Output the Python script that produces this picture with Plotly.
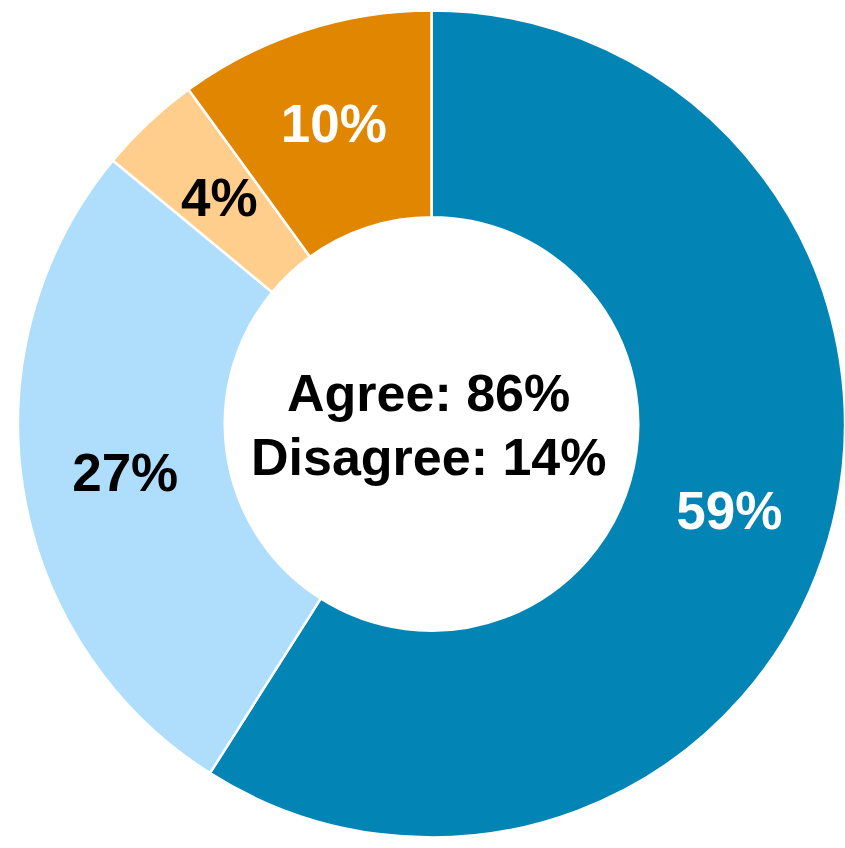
import math
import plotly.graph_objects as go

labels = ["Strongly agree", "Somewhat agree", "Somewhat disagree", "Strongly disagree"]
values = [59, 27, 4, 10]
text_labels = ["59%", "27%", "4%", "10%"]
colors = ["#0285B5", "#AEDEFC", "#FFCE8C", "#E08600"]
text_colors = ["white", "black", "black", "white"]
center_lines = ["Agree: 86%", "Disagree: 14%"]

W, H = 845, 848
FONT = "Liberation Sans, Arial, sans-serif"
HOLE = 0.5
xd = [18 / W, 1.0]
yd = [(H - 837.5) / H, (H - 10.5) / H]

# slices whose label Plotly would push outward are labelled by annotation instead
small = [v < 5 for v in values]
pie_text = ["" if s else t for s, t in zip(small, text_labels)]

fig = go.Figure(go.Pie(
    labels=labels,
    values=values,
    text=pie_text,
    textinfo="text",
    textposition="inside",
    insidetextorientation="horizontal",
    sort=False,
    direction="clockwise",
    rotation=0,
    hole=HOLE,
    marker=dict(colors=colors, line=dict(color="white", width=2.5)),
    textfont=dict(family=FONT, size=53, color=text_colors, weight="bold"),
    domain=dict(x=xd, y=yd),
    showlegend=False,
))

# labels for small slices at mid-ring along the slice bisector
xc = (xd[0] + xd[1]) / 2
yc = (yd[0] + yd[1]) / 2
R = min((xd[1] - xd[0]) * W, (yd[1] - yd[0]) * H) / 2
r_mid = R * (1 + HOLE) / 2
total = sum(values)
cum = 0
for v, t, c, s in zip(values, text_labels, text_colors, small):
    theta = 2 * math.pi * (cum + v / 2) / total
    cum += v
    if not s:
        continue
    fig.add_annotation(
        x=xc + r_mid * math.sin(theta) / W,
        y=yc + r_mid * math.cos(theta) / H,
        xref="paper", yref="paper", text=t, showarrow=False,
        font=dict(family=FONT, size=53, color=c, weight="bold"),
        xanchor="center", yanchor="middle",
    )

# centre text, two lines
for i, line in enumerate(center_lines):
    fig.add_annotation(
        x=428.5 / W, y=(H - (392.5 + 64 * i)) / H, xref="paper", yref="paper",
        text=line, showarrow=False,
        font=dict(family=FONT, size=52, color="black", weight="bold"),
        xanchor="center", yanchor="middle",
    )

fig.update_layout(
    width=W, height=H,
    margin=dict(l=0, r=0, t=0, b=0),
    paper_bgcolor="white",
    plot_bgcolor="white",
    uniformtext=dict(minsize=53, mode="show"),
)

fig.write_html("out.html")
